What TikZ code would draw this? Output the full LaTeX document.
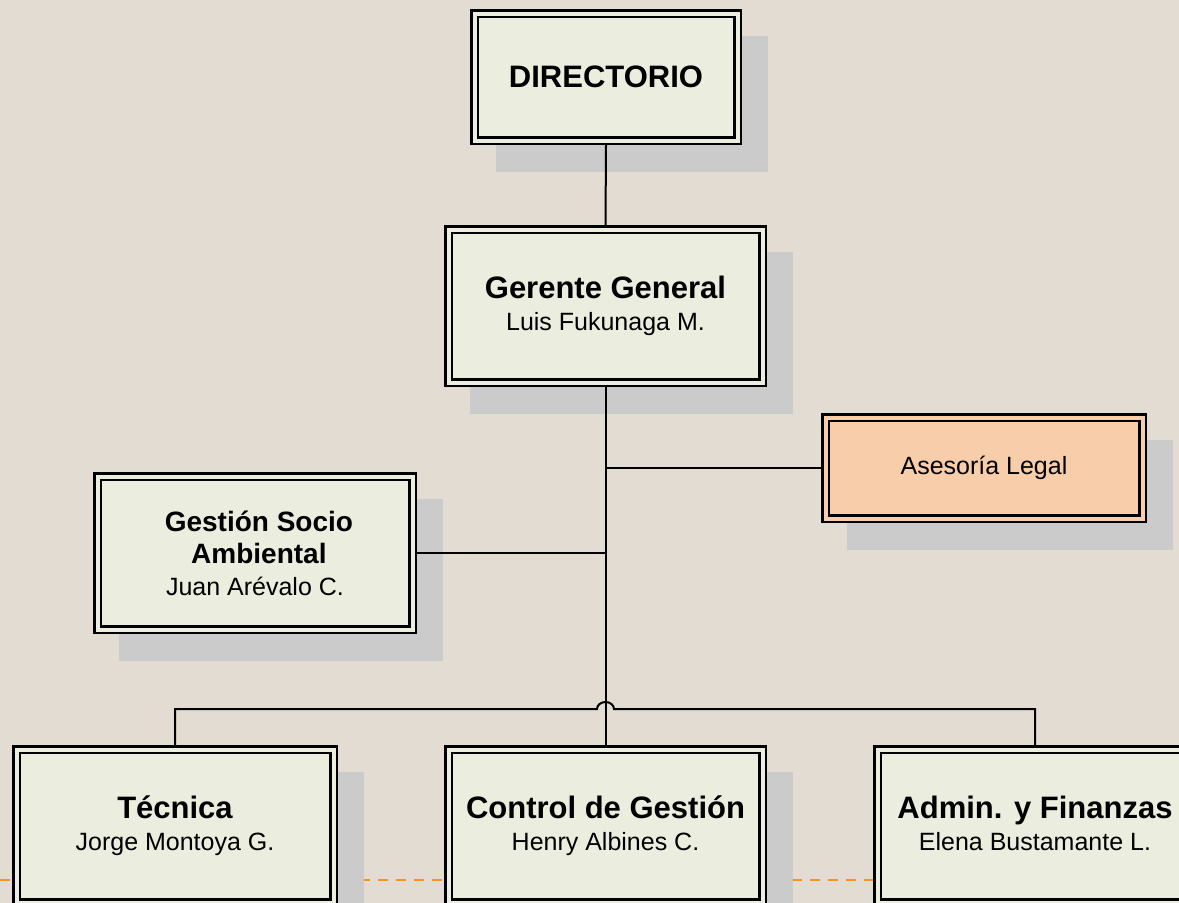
\documentclass[tikz,border=0pt]{standalone}
\usepackage{fontspec}
\setmainfont{Liberation Sans}
\usetikzlibrary{calc}
\definecolor{bgc}{HTML}{E3DCD2}
\definecolor{boxfill}{HTML}{EBEEDF}
\definecolor{legalfill}{HTML}{F8CDA9}
\definecolor{shadec}{HTML}{CBCBCB}
\definecolor{dashc}{HTML}{F7931E}
\pgfdeclarelayer{back}
\pgfdeclarelayer{shade}
\pgfsetlayers{back,shade,main}
\newcommand{\orgtitle}[1][31]{\bfseries\fontsize{#1}{32}\selectfont}
\newcommand{\orgname}{\mdseries\fontsize{25}{32}\selectfont}
\begin{document}
\begin{tikzpicture}[x=1pt,y=-1pt,
  orgbox/.style={draw=black, line width=2.5pt, double=#1, double distance=4pt,
    fill=#1, outer sep=4.5pt, inner sep=0pt, align=center, text=black,
    font=\fontsize{25}{32}\selectfont},
  orgbox/.default=boxfill,
  conn/.style={draw=black, line width=2pt},
  dashline/.style={draw=dashc, line width=1.5pt, dash pattern=on 10pt off 8pt},
  shadowbox/.style={fill=shadec}]
\useasboundingbox (0,0) rectangle (1179,903);
\begin{pgfonlayer}{back}
  \fill[bgc] (0,0) rectangle (1179,903);
  \coordinate (dl) at (0,880);
  \coordinate (dr) at (1179,880);
  \draw[dashline] (dl) -- (dr);
\end{pgfonlayer}

\node[orgbox, minimum width=263pt, minimum height=127pt] (dir) at (606,77)
  {\orgtitle DIRECTORIO};
\node[orgbox, minimum width=314pt, minimum height=153pt] (ger) at (605.5,306)
  {\orgtitle Gerente General\\\orgname Luis Fukunaga M.};
\node[orgbox=legalfill, minimum width=317pt, minimum height=101pt] (ase) at (984,468)
  {\orgname Asesoría Legal};
\node[orgbox, minimum width=315pt, minimum height=153pt] (ges) at (255,553)
  {\orgtitle[28] Gestión Socio\\\orgtitle[28] Ambiental\\\orgname Juan Arévalo C.};
\node[orgbox, minimum width=317pt, minimum height=153pt] (tec) at (175,826)
  {\orgtitle Técnica\\\orgname Jorge Montoya G.};
\node[orgbox, minimum width=314pt, minimum height=153pt] (con) at (605.5,826)
  {\orgtitle Control de Gestión\\\orgname Henry Albines C.};
\node[orgbox, minimum width=315pt, minimum height=153pt] (adm) at (1035,826)
  {\orgtitle Admin. y Finanzas\\\orgname Elena Bustamante L.\vphantom{y}};

\begin{pgfonlayer}{shade}
  \foreach \n in {dir,ger,ase,ges,tec,con,adm}
    \fill[shadowbox] ($(\n.north west)+(26,27)$) rectangle ($(\n.south east)+(26,27)$);
\end{pgfonlayer}

\draw[conn] (dir.south) -- (ger.north);
\draw[conn] (ger.south) -- (con.north);
\coordinate (ja) at (ger.south |- ase.west);
\coordinate (jg) at (ger.south |- ges.east);
\draw[conn] (ja) -- (ase.west);
\draw[conn] (jg) -- (ges.east);
\coordinate (hopl) at (597,709);
\draw[conn] (tec.north) |- (hopl)
  arc[start angle=180, end angle=0, x radius=8.5pt, y radius=7pt] -| (adm.north);
\end{tikzpicture}
\end{document}
